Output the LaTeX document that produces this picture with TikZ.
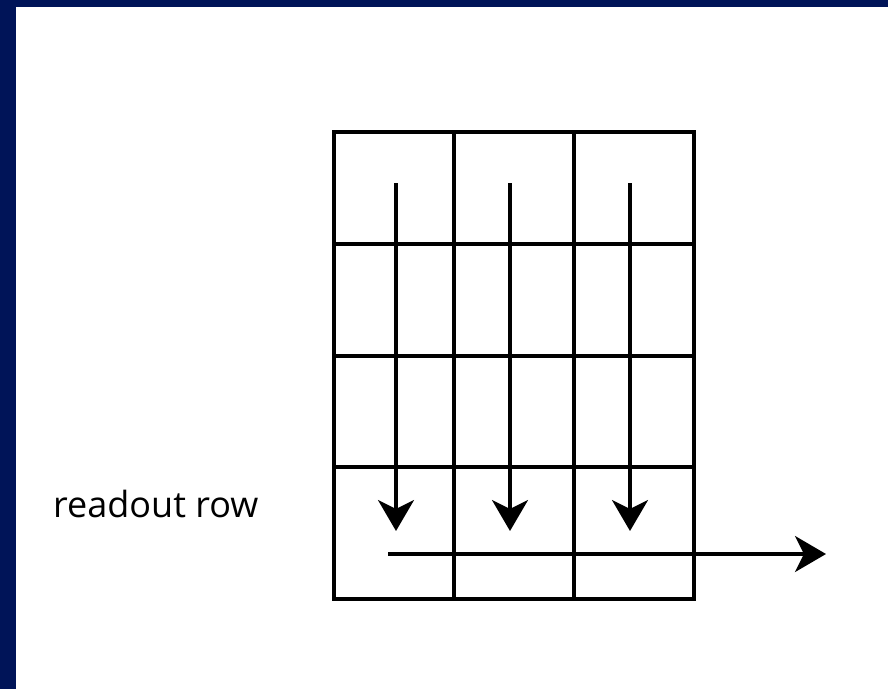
\documentclass[tikz,border=0pt]{standalone}
\usepackage{fontspec}
\setsansfont{Open Sans}
\usetikzlibrary{arrows.meta}
\definecolor{navy}{RGB}{0,20,88}

\begin{document}
\begin{tikzpicture}[x=1pt,y=-1pt,
		grid line/.style={line width=3.5pt},
		shift arrow/.style={line width=3.5pt,-{Stealth[length=31pt,width=36pt,inset=9pt]}},
		caption/.style={font=\sffamily\fontsize{36}{42}\selectfont,anchor=base west,inner sep=0pt}]
	% frame
	\fill[white] (0,0) rectangle (888,689);
	\fill[navy] (0,0) rectangle (888,7);
	\fill[navy] (0,0) rectangle (16,689);
	\useasboundingbox (0,0) rectangle (888,689);
	% pixel grid
	\draw[grid line] (334,132) rectangle (694,599);
	\foreach \x in {454,574}
		\draw[grid line] (\x,132) -- (\x,599);
	\foreach \y in {244,356,467}
		\draw[grid line] (334,\y) -- (694,\y);
	% column shifts
	\foreach \x [count=\i] in {396,510,630} {
		\coordinate (top\i) at (\x,183);
		\coordinate (bot\i) at (\x,531);
		\draw[shift arrow] (top\i) -- (bot\i);
	}
	% readout
	\coordinate (rowstart) at (388,554);
	\coordinate (rowend) at (826,554);
	\draw[shift arrow] (rowstart) -- (rowend);
	\node[caption] (readout) at (53,517) {readout row};
\end{tikzpicture}
\end{document}
